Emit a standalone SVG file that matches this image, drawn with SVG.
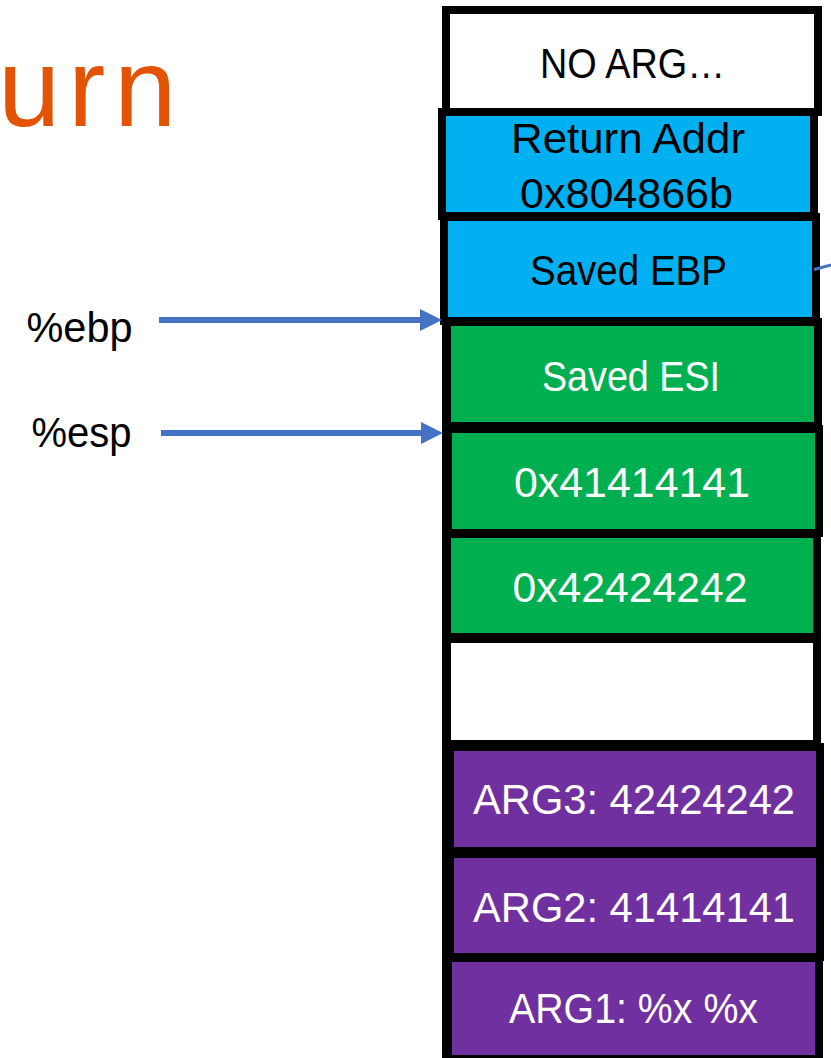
<svg xmlns="http://www.w3.org/2000/svg" width="831" height="1058" viewBox="0 0 831 1058">
  <style>
    .cell { stroke: #000; stroke-width: 8; }
    .white { fill: #FFFFFF; }
    .blue { fill: #00B0F0; }
    .green { fill: #00B050; }
    .purple { fill: #7030A0; }
    .lbl { font-family: "Liberation Sans", Arial, sans-serif; font-size: 42px; text-anchor: middle; }
    .dark { fill: #000; }
    .light { fill: #FFFFFF; }
    .reg { font-family: "Liberation Sans", Arial, sans-serif; font-size: 42px; fill: #000; }
    .ptr { stroke: #4472C4; stroke-width: 6; fill: none; }
  </style>
  <defs>
    <marker id="head" markerUnits="userSpaceOnUse" markerWidth="24" markerHeight="22" refX="0" refY="11" orient="auto">
      <path d="M0,0 L22,11 L0,22 z" fill="#4472C4"/>
    </marker>
  </defs>

  <rect width="831" height="1058" fill="#FFFFFF"/>

  <!-- slide title -->
  <text x="-2 68 114" y="126" font-family="Liberation Sans, Arial, sans-serif" font-size="112" fill="#E25303">urn</text>

  <!-- left spine of the stack -->
  <rect x="442" y="320" width="10" height="738" fill="#000"/>

  <g id="cell-noarg">
    <rect class="cell white" x="446" y="10" width="372" height="102"/>
    <text class="lbl dark" x="632.5" y="78" textLength="185" lengthAdjust="spacingAndGlyphs">NO ARG…</text>
  </g>
  <g id="cell-retaddr">
    <rect class="cell blue" x="442" y="112" width="372" height="104"/>
    <text class="lbl dark" x="628" y="153" textLength="234" lengthAdjust="spacingAndGlyphs">Return Addr</text>
    <text class="lbl dark" x="626.5" y="208" textLength="213" lengthAdjust="spacingAndGlyphs">0x804866b</text>
  </g>
  <g id="cell-saved-ebp">
    <rect class="cell blue" x="444" y="217" width="372" height="104"/>
    <text class="lbl dark" x="628.5" y="285" textLength="197" lengthAdjust="spacingAndGlyphs">Saved EBP</text>
  </g>
  <g id="cell-saved-esi">
    <rect class="cell green" x="447" y="322" width="371" height="104"/>
    <text class="lbl light" x="631" y="391" textLength="178" lengthAdjust="spacingAndGlyphs">Saved ESI</text>
  </g>
  <g id="cell-41414141">
    <rect class="cell green" x="448" y="429" width="371" height="104"/>
    <text class="lbl light" x="632" y="497" textLength="236" lengthAdjust="spacingAndGlyphs">0x41414141</text>
  </g>
  <g id="cell-42424242">
    <rect class="cell green" x="447" y="534" width="370" height="103"/>
    <text class="lbl light" x="630" y="602" textLength="235" lengthAdjust="spacingAndGlyphs">0x42424242</text>
  </g>
  <g id="cell-empty">
    <rect class="cell white" x="447" y="639" width="370" height="105"/>
  </g>
  <g id="cell-arg3">
    <rect class="cell purple" x="450" y="747" width="370" height="104"/>
    <text class="lbl light" x="634" y="814" textLength="322" lengthAdjust="spacingAndGlyphs">ARG3: 42424242</text>
  </g>
  <g id="cell-arg2">
    <rect class="cell purple" x="450" y="854" width="370" height="103"/>
    <text class="lbl light" x="634" y="922" textLength="322" lengthAdjust="spacingAndGlyphs">ARG2: 41414141</text>
  </g>
  <g id="cell-arg1">
    <rect class="cell purple" x="448" y="958" width="371" height="101"/>
    <text class="lbl light" x="633.5" y="1023" textLength="249" lengthAdjust="spacingAndGlyphs">ARG1: %x %x</text>
  </g>

  <g id="reg-ebp">
    <text class="reg" x="26.5" y="342" textLength="106" lengthAdjust="spacingAndGlyphs">%ebp</text>
  </g>
  <g id="reg-esp">
    <text class="reg" x="31.5" y="447" textLength="100" lengthAdjust="spacingAndGlyphs">%esp</text>
  </g>

  <g id="connectors">
    <line class="ptr" x1="159" y1="320" x2="420" y2="320" marker-end="url(#head)"/>
    <line class="ptr" x1="161" y1="433" x2="421" y2="433" marker-end="url(#head)"/>
    <line x1="814" y1="269.5" x2="835" y2="264" stroke="#4472C4" stroke-width="3"/>
  </g>
</svg>
